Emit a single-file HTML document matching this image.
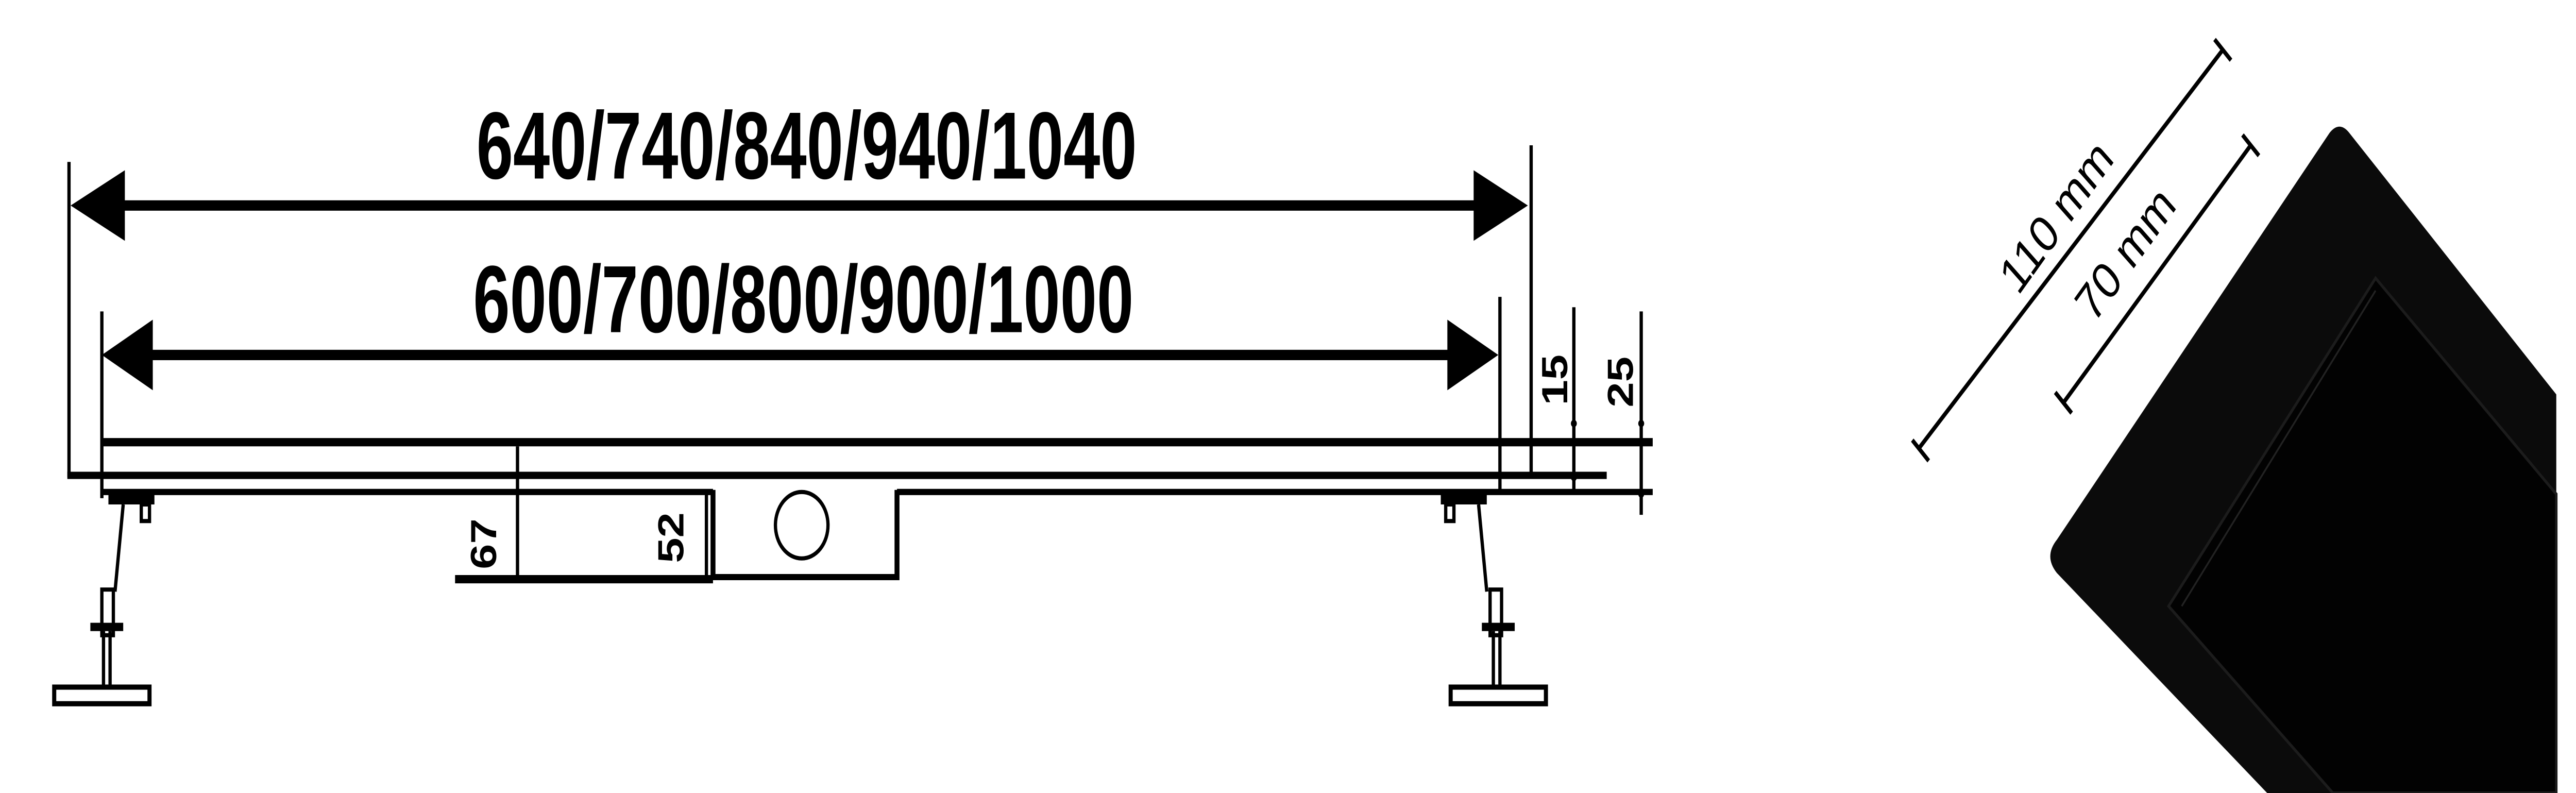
<!DOCTYPE html>
<html><head><meta charset="utf-8"><style>
html,body{margin:0;padding:0;background:#fff;width:100%;height:100%;overflow:hidden;}
svg{display:block;position:fixed;left:0;top:0;width:100vw;height:100vh;}
text{font-family:"Liberation Sans",sans-serif;font-weight:bold;fill:#000;}
</style></head><body>
<svg viewBox="0 0 1568 382" preserveAspectRatio="none" xmlns="http://www.w3.org/2000/svg">
<rect width="1568" height="382" fill="#fff"/>
<g stroke="#000" fill="none">
  <text x="290" y="86" font-size="46" textLength="402" lengthAdjust="spacingAndGlyphs" stroke="none">640/740/840/940/1040</text>
  <line x1="42" y1="78" x2="42" y2="230" stroke-width="2"/>
  <line x1="932" y1="70" x2="932" y2="230" stroke-width="2"/>
  <line x1="60" y1="99" x2="915" y2="99" stroke-width="5"/>
  <polygon points="43,99 76,82 76,116" fill="#000" stroke="none"/>
  <polygon points="930,99 897,82 897,116" fill="#000" stroke="none"/>
  <text x="288" y="160" font-size="46" textLength="402" lengthAdjust="spacingAndGlyphs" stroke="none">600/700/800/900/1000</text>
  <line x1="62" y1="150" x2="62" y2="240" stroke-width="2"/>
  <line x1="913" y1="143" x2="913" y2="236" stroke-width="2"/>
  <line x1="80" y1="171" x2="895" y2="171" stroke-width="5"/>
  <polygon points="62,171 93,154 93,188" fill="#000" stroke="none"/>
  <polygon points="912,171 881,154 881,188" fill="#000" stroke="none"/>
  <line x1="61" y1="213" x2="1006" y2="213" stroke-width="4"/>
  <line x1="41" y1="229" x2="978" y2="229" stroke-width="3.5"/>
  <line x1="61" y1="237" x2="434" y2="237" stroke-width="3"/>
  <line x1="546" y1="237" x2="1006" y2="237" stroke-width="3"/>
  <polyline points="434,236 434,278 546,278 546,236" stroke-width="3"/>
  <ellipse cx="488" cy="253" rx="16" ry="16" stroke-width="2"/>
  <line x1="277" y1="279" x2="434" y2="279" stroke-width="4"/>
  <line x1="315" y1="215" x2="315" y2="278" stroke-width="2"/>
  <text transform="translate(302,262) rotate(-90)" font-size="22" stroke="none" text-anchor="middle">67</text>
  <line x1="430" y1="238" x2="430" y2="278" stroke-width="2"/>
  <text transform="translate(416,259) rotate(-90)" font-size="22" stroke="none" text-anchor="middle">52</text>
  <line x1="958" y1="148" x2="958" y2="236" stroke-width="2"/>
  <circle cx="958" cy="204" r="1.8" fill="#000" stroke="none"/>
  <circle cx="958" cy="230" r="1.8" fill="#000" stroke="none"/>
  <text transform="translate(954,183) rotate(-90)" font-size="22" stroke="none" text-anchor="middle">15</text>
  <line x1="999" y1="150" x2="999" y2="248" stroke-width="2"/>
  <circle cx="999" cy="204" r="1.8" fill="#000" stroke="none"/>
  <circle cx="999" cy="238" r="1.8" fill="#000" stroke="none"/>
  <text transform="translate(994,184) rotate(-90)" font-size="22" stroke="none" text-anchor="middle">25</text>
  <g stroke-width="2">
    <rect x="66" y="238" width="28" height="5" fill="#000" stroke="none"/>
    <rect x="86" y="243" width="5" height="8"/>
    <line x1="75" y1="243" x2="70" y2="285"/>
    <rect x="62" y="284" width="7" height="22"/>
    <rect x="55" y="300" width="20" height="4" fill="#000" stroke="none"/>
    <line x1="63" y1="304" x2="63" y2="330"/>
    <line x1="67" y1="304" x2="67" y2="330"/>
    <rect x="33" y="331" width="58" height="8" stroke-width="2.5"/>
  </g>
  <g stroke-width="2">
    <rect x="877" y="238" width="28" height="5" fill="#000" stroke="none"/>
    <rect x="880" y="243" width="5" height="8"/>
    <line x1="900" y1="243" x2="905" y2="285"/>
    <rect x="907" y="284" width="7" height="22"/>
    <rect x="902" y="300" width="20" height="4" fill="#000" stroke="none"/>
    <line x1="909" y1="304" x2="909" y2="330"/>
    <line x1="913" y1="304" x2="913" y2="330"/>
    <rect x="883" y="331" width="58" height="8" stroke-width="2.5"/>
  </g>
</g>
<g>
  <path d="M1418,64 Q1424,58 1430,64 L1556,190 L1556,382 L1380,382 L1252,276 Q1244,268 1252,260 Z" fill="#0b0b0b"/>
  <path d="M1446,134 L1556,238 L1556,382 L1420,382 L1320,292 Z" fill="#020202" stroke="#1c1c1c" stroke-width="1.5"/>
  <line x1="1446" y1="140" x2="1328" y2="292" stroke="#222" stroke-width="1"/>
</g>
<g stroke="#000" stroke-width="2.2">
  <line x1="1168" y1="216" x2="1353" y2="24"/>
  <line x1="1164" y1="212" x2="1174" y2="222"/>
  <line x1="1348" y1="19" x2="1358" y2="29"/>
  <text transform="translate(1258,110) rotate(-48)" font-size="25" stroke="none" text-anchor="middle" style="font-weight:normal">110 mm</text>
  <line x1="1256" y1="194" x2="1370" y2="70"/>
  <line x1="1251" y1="189" x2="1261" y2="199"/>
  <line x1="1365" y1="65" x2="1375" y2="75"/>
  <text transform="translate(1300,128) rotate(-48)" font-size="25" stroke="none" text-anchor="middle" style="font-weight:normal">70 mm</text>
</g>
</svg>
</body></html>
